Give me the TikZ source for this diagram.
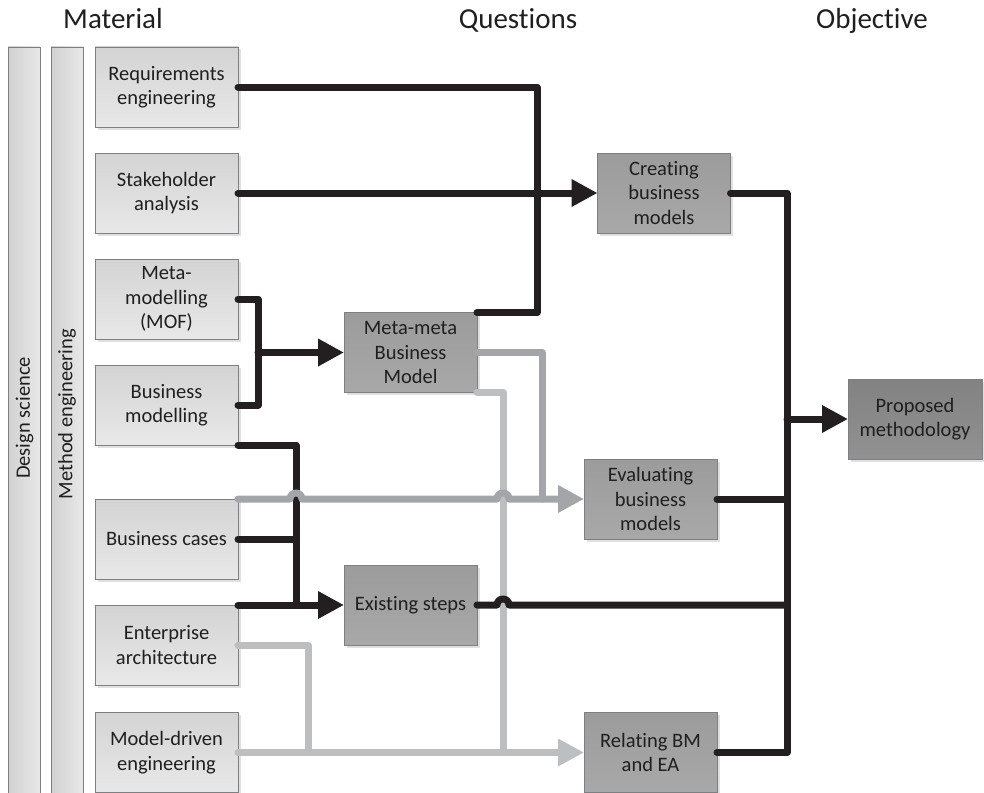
\documentclass[tikz,border=0pt]{standalone}
\usepackage{fontspec}
\setmainfont{Carlito}[RawFeature={-liga;-clig}]
\usetikzlibrary{arrows.meta,shadows,calc}
\definecolor{ink}{HTML}{231F20}
\definecolor{txt}{HTML}{1F1F1F}
\definecolor{gmidc}{HTML}{A3A5A8}
\definecolor{gltc}{HTML}{BCBEC0}
\definecolor{edgec}{HTML}{7E7F82}
\begin{document}
\begin{tikzpicture}[x=1pt,y=1pt,
  every node/.style={font=\fontsize{20.5}{24.5}\selectfont, text=txt, align=center, inner sep=0pt, outer sep=0pt},
  hdr/.style={font=\fontsize{29}{31}\selectfont, anchor=base},
  boxbase/.style={draw=edgec, line width=0.9pt, minimum height=80pt,
    drop shadow={shadow xshift=2.5pt, shadow yshift=-2.5pt, fill=black, opacity=0.12}},
  matbox/.style={boxbase, minimum width=143pt, top color=black!17, bottom color=black!9},
  qbox/.style={boxbase, minimum width=133pt, top color=black!39, bottom color=black!34},
  obox/.style={boxbase, minimum width=134pt, top color=black!49, bottom color=black!43},
  bar/.style={draw=edgec, line width=0.9pt, minimum width=32pt, minimum height=760pt,
    left color=black!18, right color=black!9, anchor=north west},
  blk/.style={draw=ink, line width=7pt, line cap=round, line join=round},
  gmid/.style={draw=gmidc, line width=7pt, line cap=round, line join=round},
  glt/.style={draw=gltc, line width=7pt, line cap=round, line join=round},
  arrowhd/.style={-{Triangle[length=26pt,width=26pt]}},
]
\clip (0,0) rectangle (984,-792);

% column headings
\node[hdr] (hmat) at (113,-29) {Material};
\node[hdr] (hque) at (518,-29) {Questions};
\node[hdr] (hobj) at (872,-29) {Objective};

% background bars
\node[bar] (ds) at (8,-47) {};
\node[bar] (me) at (51,-47) {};
\node[rotate=90] (dslab) at (24.5,-418) {Design science};
\node[rotate=90] (melab) at (67,-414) {Method engineering};

% material boxes
\node[matbox] (req)  at (166.5,-87)   {Requirements\\engineering};
\node[matbox] (stk)  at (166.5,-193)  {Stakeholder\\analysis};
\node[matbox] (meta) at (166.5,-299)  {Meta-\\modelling\\(MOF)};
\node[matbox] (bm)   at (166.5,-405)  {Business\\modelling};
\node[matbox] (bc)   at (166.5,-539)  {Business cases};
\node[matbox] (ea)   at (166.5,-645)  {Enterprise\\architecture};
\node[matbox] (mde)  at (166.5,-752.5){Model-driven\\engineering};

% question boxes
\node[qbox] (mm)  at (410.5,-352.5) {Meta-meta\\Business\\Model};
\node[qbox] (es)  at (410.5,-605)   {Existing steps};
\node[qbox] (cbm) at (664,-193)     {Creating\\business\\models};
\node[qbox] (ebm) at (650.5,-499)   {Evaluating\\business\\models};
\node[qbox] (rel) at (650.5,-752.5) {Relating BM\\and EA};

% objective
\node[obox] (prop) at (915,-419) {Proposed\\methodology};

% routing columns
\coordinate (xR) at (537,0);
\coordinate (xM) at (258,0);
\coordinate (xB) at (296,0);
\coordinate (xL) at (503,0);
\coordinate (xG) at (542,0);
\coordinate (xE) at (308,0);
\coordinate (jb) at (787,-419);

% light grey connectors
\draw[glt] (mm.south east) -| (xL |- mde.east);
\draw[glt] (ea.east) -| (xE |- mde.east);
\draw[glt,arrowhd] (mde.east) -- (rel.west);

% black connectors
\draw[blk] (req.east) -| (xR |- mm.north) -- (mm.north east);
\draw[blk,arrowhd] (stk.east) -- (cbm.west);
\draw[blk] (meta.east) -| (xM |- bm.east) -- (bm.east);
\draw[blk,arrowhd] (xM |- mm.west) -- (mm.west);
\draw[blk] (bm.south east) -| (xB |- es.west);
\draw[blk] (bc.east) -- (xB |- bc.east);
\draw[blk,arrowhd] (ea.north east) -- (es.west);
\draw[blk] (es.east) -- (497,-605) arc[start angle=180,end angle=0,radius=6] -- (jb |- es.east);
\draw[blk] (cbm.east) -| (jb) |- (rel.east);
\draw[blk] (ebm.east) -- (jb |- ebm.east);
\draw[blk,arrowhd] (jb) -- (prop.west);

% mid grey connectors
\draw[gmid] (mm.east) -| (xG |- ebm.west);
\draw[gmid,arrowhd] (bc.north east) -- (290,-499) arc[start angle=180,end angle=0,radius=6]
  -- (497,-499) arc[start angle=180,end angle=0,radius=6] -- (ebm.west);
\end{tikzpicture}
\end{document}
